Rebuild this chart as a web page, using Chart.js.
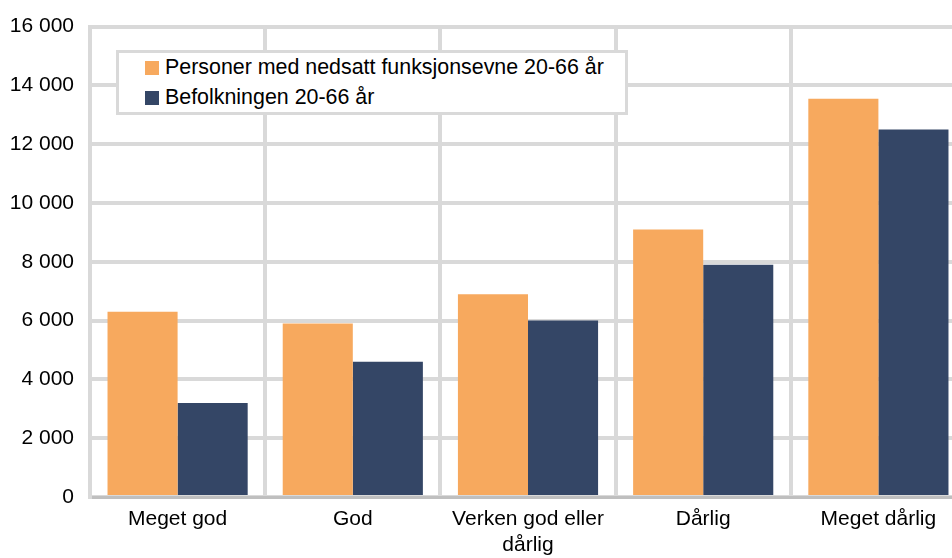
<!DOCTYPE html>
<html>
<head>
<meta charset="utf-8">
<script src="https://cdn.jsdelivr.net/npm/chart.js@4.4.0/dist/chart.umd.min.js"></script>
<style>
  body { margin: 0; overflow: hidden; background: #fff; }
  #wrap { position: relative; width: 966px; height: 560px; margin-top: -2px; }
  #legend {
    position: absolute; left: 116px; top: 52px; width: 506px; height: 59px;
    background: #fff; border: 3px solid #d9d9d9;
    font-family: 'Liberation Sans', Arial, sans-serif; font-size: 21.4px; color: #000;
  }
  .item { position: absolute; left: 26px; height: 24px; line-height: 24px; white-space: nowrap; }
  .item span { display: inline-block; width: 14px; height: 14px; margin-right: 6px; vertical-align: -1px; }
</style>
</head>
<body>
<div id="wrap">
  <canvas id="myChart"></canvas>
  <div id="legend"></div>
</div>
<script>
const categories = ['Meget god', 'God', ['Verken god eller', 'dårlig'], 'Dårlig', 'Meget dårlig'];
const funksjonsevne = [6300, 5900, 6900, 9100, 13550];
const befolkningen = [3200, 4600, 6000, 7900, 12500];
const yTicks = [0, 2000, 4000, 6000, 8000, 10000, 12000, 14000, 16000];

const ctx = document.getElementById('myChart');

const chart = new Chart(ctx, {
    type: 'bar',
    data: {
        labels: categories,
        datasets: [{
            label: 'Personer med nedsatt funksjonsevne 20-66 år',
            data: funksjonsevne,
            backgroundColor: '#f7a95e',
            categoryPercentage: 0.8,
            barPercentage: 1.0
        }, {
            label: 'Befolkningen 20-66 år',
            data: befolkningen,
            backgroundColor: '#344666',
            categoryPercentage: 0.8,
            barPercentage: 1.0
        }]
    },
    options: {
        responsive: true,
        maintainAspectRatio: false,
        animation: false,
        layout: { padding: { top: 19, right: 0, left: 0, bottom: 0 } },
        plugins: {
            legend: { display: false },
            tooltip: { enabled: false }
        },
        scales: {
            x: {
                grid: { display: true, offset: true, color: '#d9d9d9', lineWidth: 4, drawTicks: false },
                border: { display: true, color: '#bfbfbf', width: 3 },
                ticks: {
                    color: '#000',
                    padding: 10,
                    maxRotation: 0,
                    font: { family: 'Liberation Sans', size: 21 }
                },
                afterFit: function (scale) { scale.height = 61; }
            },
            y: {
                min: 0,
                max: 16000,
                afterBuildTicks: function (scale) {
                    scale.ticks = yTicks.map(function (v) { return { value: v }; });
                },
                grid: { color: '#d9d9d9', lineWidth: 4, drawTicks: false },
                border: { display: true, color: '#d9d9d9', width: 4 },
                ticks: {
                    color: '#000',
                    padding: 16,
                    font: { family: 'Liberation Sans', size: 21 },
                    callback: function (v) {
                        return String(v).replace(/\B(?=(\d{3})+(?!\d))/g, ' ');
                    }
                },
                afterFit: function (scale) { scale.width = 90; }
            }
        }
    }
});

const legend = document.getElementById('legend');
chart.data.datasets.forEach(function (ds, i) {
    const item = document.createElement('div');
    item.className = 'item';
    item.style.top = (i === 0 ? 2 : 32) + 'px';
    const box = document.createElement('span');
    box.style.background = ds.backgroundColor;
    item.appendChild(box);
    item.appendChild(document.createTextNode(ds.label));
    legend.appendChild(item);
});
</script>
</body>
</html>
